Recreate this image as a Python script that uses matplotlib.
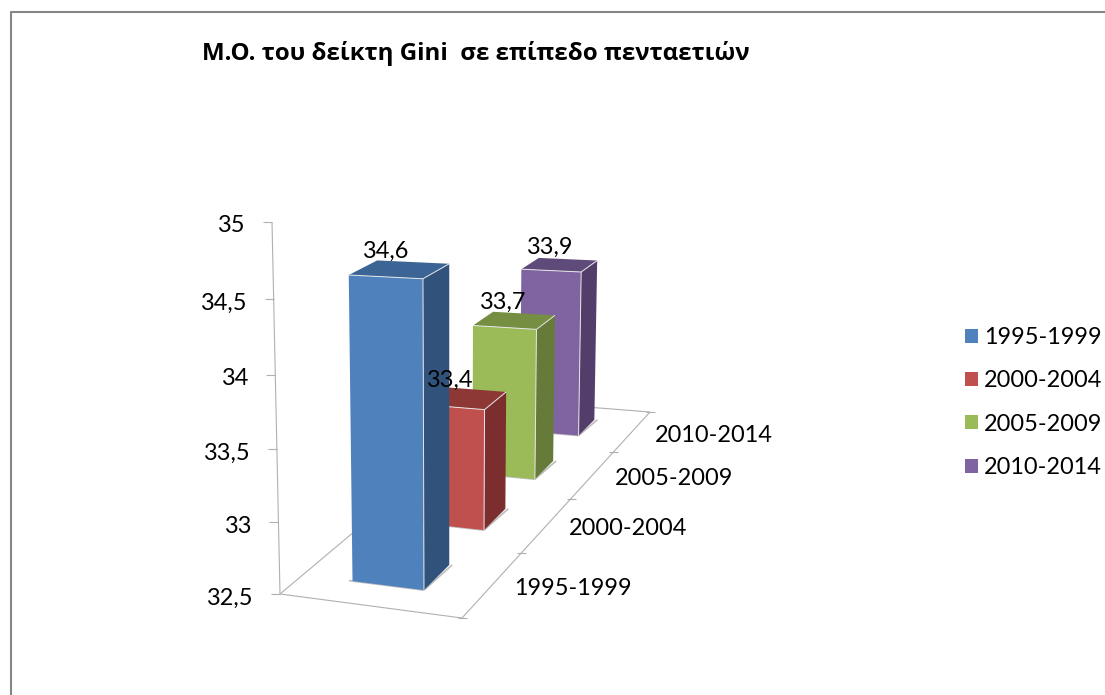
import numpy as np
import matplotlib
matplotlib.use("Agg")
import matplotlib.pyplot as plt
from matplotlib.patches import Polygon, Patch

# ---- data ----
title = "Μ.Ο. του δείκτη Gini  σε επίπεδο πενταετιών"
periods = ["1995-1999", "2000-2004", "2005-2009", "2010-2014"]
gini = [34.6, 33.4, 33.7, 33.9]
y_ticks = [32.5, 33, 33.5, 34, 34.5, 35]

# ---- styles: front, side, top ----
front = ["#4F81BD", "#C0504D", "#9BBB59", "#8064A2"]
side = ["#31527A", "#7B2E2D", "#667A39", "#533E6B"]
top = ["#3C6494", "#8E3836", "#758E42", "#5F4B7A"]
AXC = "#B0B0B0"
TXT = "#000000"
FS = 16.9

fig = plt.figure(figsize=(11.05, 6.95), dpi=100)
ax = fig.add_axes([0, 0, 1, 1])
ax.set_xlim(0, 1105)
ax.set_ylim(695, 0)
ax.axis("off")

# ---- perspective projection of the chart box onto the canvas ----
# floor corners: (x,d') = (0,0),(1,0),(1,1),(0,1)
c = np.array([[280, 594], [462, 618], [650, 412], [510, 401]], float)
dx1, dx2, sx = c[1,0]-c[2,0], c[3,0]-c[2,0], c[0,0]-c[1,0]+c[2,0]-c[3,0]
dy1, dy2, sy = c[1,1]-c[2,1], c[3,1]-c[2,1], c[0,1]-c[1,1]+c[2,1]-c[3,1]
den = dx1*dy2 - dx2*dy1
G = (sx*dy2 - dx2*sy)/den
H = (dx1*sy - sx*dy1)/den
A, B, C0 = c[1,0]-c[0,0]+G*c[1,0], c[3,0]-c[0,0]+H*c[3,0], c[0,0]
D, E, F = c[1,1]-c[0,1]+G*c[1,1], c[3,1]-c[0,1]+H*c[3,1], c[0,1]
L = -0.045
wall_top = (272, 222)
J = wall_top[0]*(1+L) - C0
K = wall_top[1]*(1+L) - F
zmin, zmax = y_ticks[0], y_ticks[-1]
n = len(periods)

def proj(x, d, z):
    dn = d/n
    zn = (z-zmin)/(zmax-zmin)
    w = G*x + H*dn + 1 + L*zn
    return ((A*x + B*dn + C0 + J*zn)/w, (D*x + E*dn + F + K*zn)/w)

def line(p, q, color=AXC, lw=0.8, z=1):
    ax.plot([p[0], q[0]], [p[1], q[1]], color=color, lw=lw, zorder=z, solid_capstyle="butt")

# ---- outer frame (left + top only) ----
ax.plot([11, 11, 1105], [695, 12, 12], color="#868686", lw=1.5, zorder=0)

# ---- box lines ----
line(proj(0, 0, zmin), proj(1, 0, zmin))
line(proj(1, 0, zmin), proj(1, n, zmin))
line(proj(0, 0, zmin), proj(0, n, zmin))
line(proj(0, n, zmin), proj(1, n, zmin))
line(proj(0, 0, zmin), proj(0, 0, zmax))

# value axis ticks + labels
for t in y_ticks:
    p = proj(0, 0, t)
    line((p[0]-9, p[1]), p)
    ax.text(p[0]-27, p[1]+4, f"{t:g}".replace(".", ","), ha="right", va="center",
            fontsize=FS, family="Lato", color=TXT, zorder=10)

# depth axis ticks + labels
for i in range(n+1):
    p = proj(1, i, zmin)
    line((p[0]-4, p[1]), (p[0]+5, p[1]))
for i, lab in enumerate(periods):
    p = proj(1, i+0.5, zmin)
    ax.text(p[0]+80+0.6*i, p[1]+4, lab, ha="center", va="center",
            fontsize=FS, family="Lato", color=TXT, zorder=10)

# ---- bars, back to front ----
BW0, BW1 = 0.288, 0.69
for i in reversed(range(n)):
    v = gini[i]
    d0, d1 = i+0.3, i+0.7
    f0b, f1b = proj(BW0, d0, zmin), proj(BW1, d0, zmin)
    f0t, f1t = proj(BW0, d0, v), proj(BW1, d0, v)
    b1b, b1t = proj(BW1, d1, zmin), proj(BW1, d1, v)
    b0t = proj(BW0, d1, v)
    # floor shadow edges
    line(proj(BW0-0.02, d0, zmin), f1b, color="#BDBDBD", lw=1.2, z=2+3*(n-i))
    line(f1b, (b1b[0]+3, b1b[1]), color="#BDBDBD", lw=1.2, z=2+3*(n-i))
    base = 3+3*(n-i)
    ax.add_patch(Polygon([f1b, b1b, b1t, f1t], closed=True, fc=side[i], ec="none", zorder=base))
    ax.add_patch(Polygon([f0t, f1t, b1t, b0t], closed=True, fc=top[i], ec="none", zorder=base))
    ax.add_patch(Polygon([f0b, f1b, f1t, f0t], closed=True, fc=front[i], ec="none", zorder=base+0.5))
    # light edges
    line(f1b, f1t, color="#E6E6E6", lw=0.7, z=base+1)
    line(f0t, f1t, color="#E6E6E6", lw=0.7, z=base+1)
    line(f1t, b1t, color="#E6E6E6", lw=0.7, z=base+1)
    # data labels
    p = proj(0.5, i+0.5, v)
    ax.text(p[0]-16+1.3*i, p[1]-18, f"{v:g}".replace(".", ","), ha="center", va="center",
            fontsize=FS, family="Lato", color=TXT, zorder=50)

# ---- title ----
ax.text(202, 54, title, ha="left", va="center", fontsize=17.4, fontweight="bold",
        family="Open Sans", color=TXT, zorder=50)

# ---- legend ----
handles = [Patch(fc=col, ec="none", label=lab) for col, lab in zip(front, periods)]
leg = ax.legend(handles=handles, loc="center left", bbox_to_anchor=(965/1105, 1-402.5/695),
                frameon=False, ncol=1, prop={"family": "Lato", "size": FS},
                handlelength=0.56, handleheight=0.56, handletextpad=0.25,
                labelspacing=0.95, borderpad=0, borderaxespad=0)
for t in leg.get_texts():
    t.set_color(TXT)

fig.savefig("out.png", dpi=100)
